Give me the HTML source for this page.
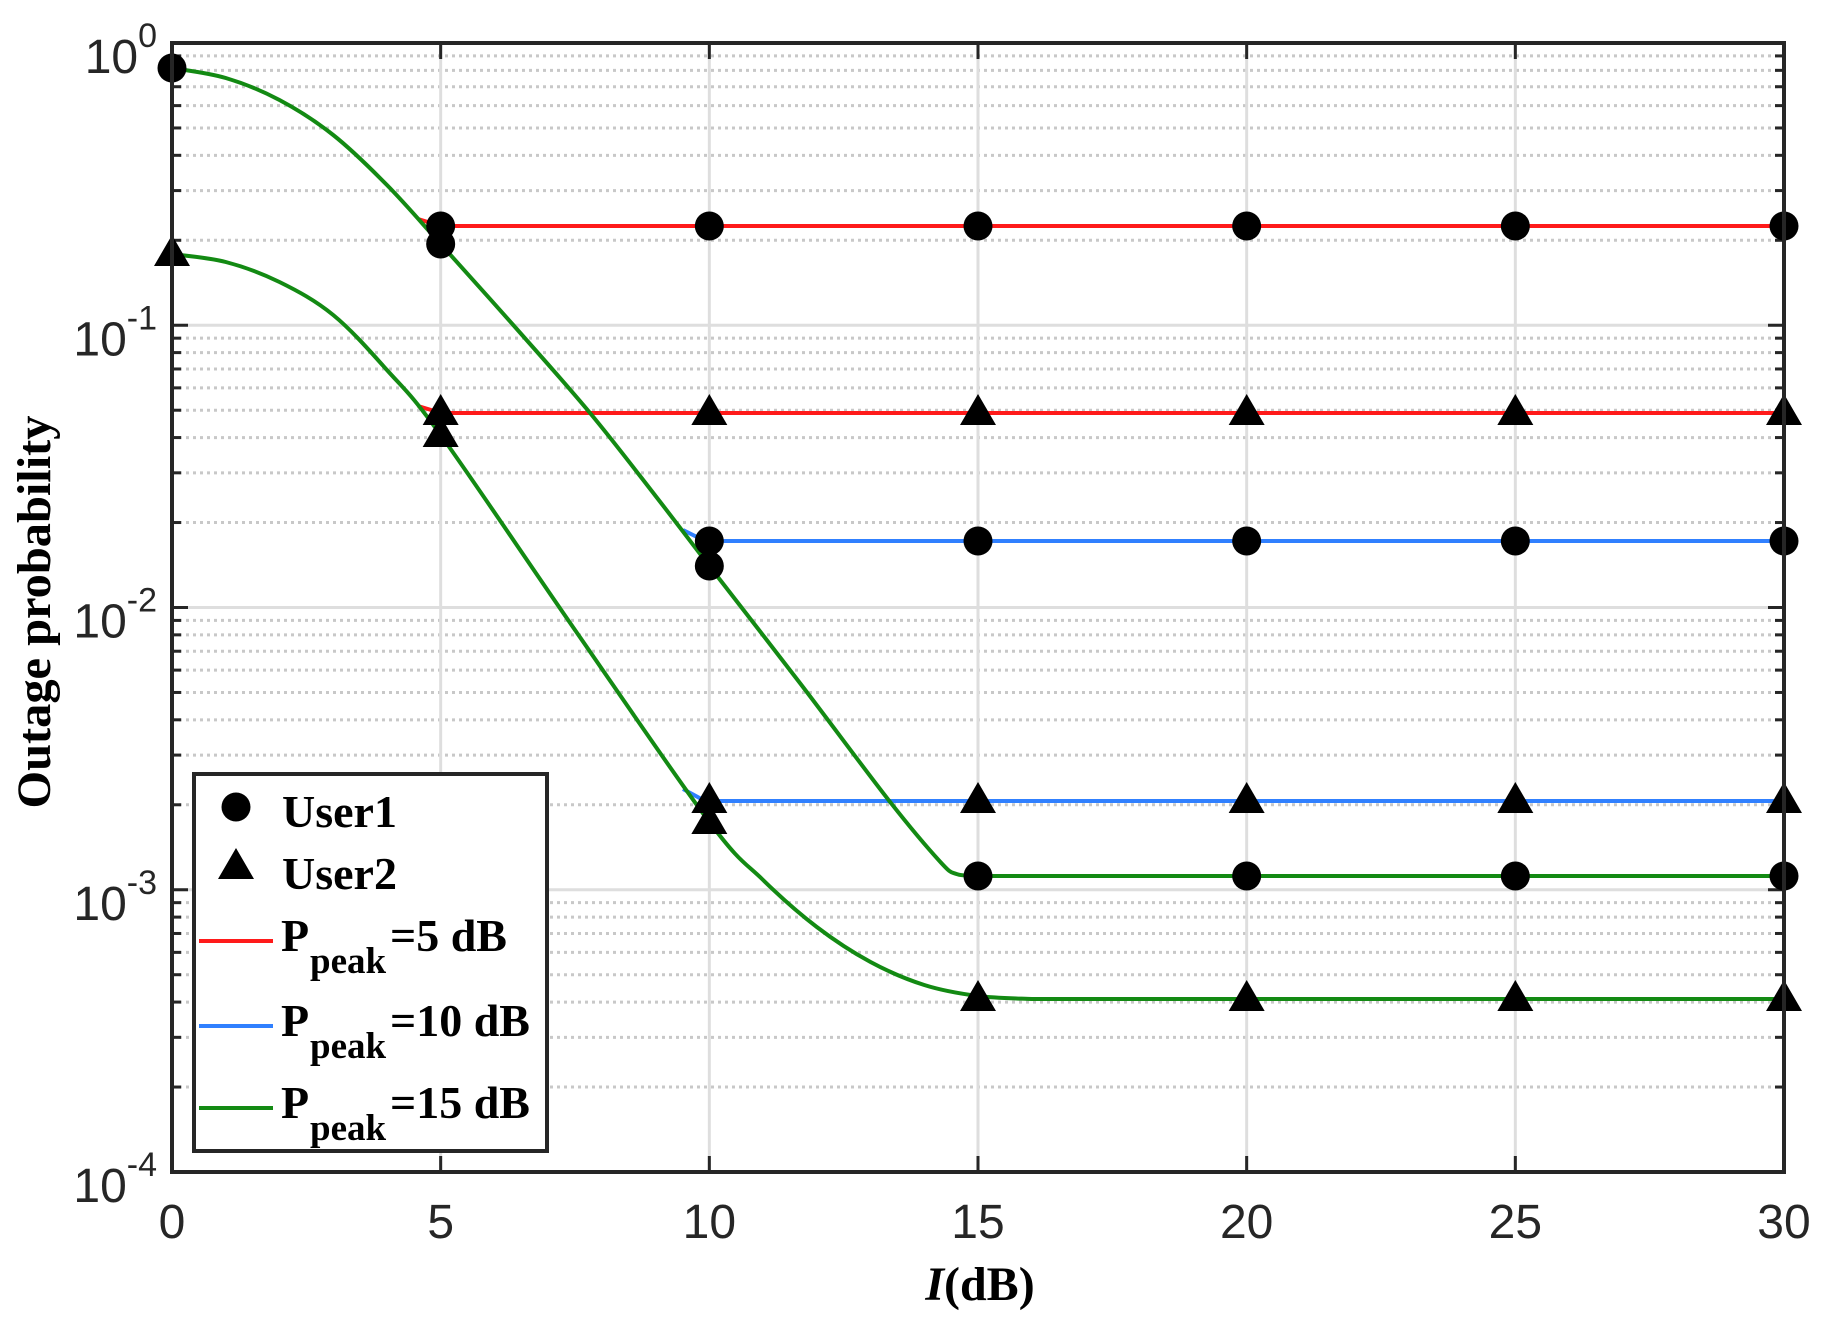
<!DOCTYPE html>
<html><head><meta charset="utf-8"><style>
html,body{margin:0;padding:0;background:#fff;}
svg{display:block;}
</style></head><body>
<svg id="s" width="1829" height="1336" xmlns="http://www.w3.org/2000/svg"></svg>
<script>
var s=document.getElementById('s');
var L=172,R=1784,T=43,B=1172,D=(B-T)/4;
function X(i){return L+i*(R-L)/30;}
var h='';
for(var d=0;d<4;d++){for(var k=2;k<=9;k++){var y=T+d*D+D*(1-Math.log10(k));
h+='<line x1="'+L+'" x2="'+R+'" y1="'+y+'" y2="'+y+'" stroke="#c8c8c8" stroke-width="3" stroke-dasharray="3,4"/>';
h+='<line x1="'+L+'" x2="'+(L+9)+'" y1="'+y+'" y2="'+y+'" stroke="#262626" stroke-width="3"/>';
h+='<line x1="'+(R-9)+'" x2="'+R+'" y1="'+y+'" y2="'+y+'" stroke="#262626" stroke-width="3"/>';}}
for(var d=1;d<4;d++){var y=T+d*D;h+='<line x1="'+L+'" x2="'+R+'" y1="'+y+'" y2="'+y+'" stroke="#dedede" stroke-width="3"/>';}
for(var i=5;i<30;i+=5){var x=X(i);h+='<line x1="'+x+'" x2="'+x+'" y1="'+T+'" y2="'+B+'" stroke="#dedede" stroke-width="3"/>';}
for(var d=0;d<=4;d++){var y=T+d*D;h+='<line x1="'+L+'" x2="'+(L+16)+'" y1="'+y+'" y2="'+y+'" stroke="#262626" stroke-width="3"/><line x1="'+(R-16)+'" x2="'+R+'" y1="'+y+'" y2="'+y+'" stroke="#262626" stroke-width="3"/>';}
for(var i=0;i<=30;i+=5){var x=X(i);h+='<line x1="'+x+'" x2="'+x+'" y1="'+B+'" y2="'+(B-16)+'" stroke="#262626" stroke-width="3"/><line x1="'+x+'" x2="'+x+'" y1="'+T+'" y2="'+(T+16)+'" stroke="#262626" stroke-width="3"/>';
h+='<text x="'+x+'" y="1238" font-family="Liberation Sans, sans-serif" font-size="48" fill="#262626" text-anchor="middle">'+i+'</text>';}
var ex=['0','-1','-2','-3','-4'];
for(var d=0;d<=4;d++){var y=T+d*D;h+='<text x="157" y="'+(y+30)+'" font-family="Liberation Sans, sans-serif" font-size="48" fill="#262626" text-anchor="end">10<tspan font-size="34" dy="-26">'+ex[d]+'</tspan></text>';}
function cr(p){var o='M'+p[0][0]+','+p[0][1];for(var i=0;i<p.length-1;i++){var p0=p[i>0?i-1:0],p1=p[i],p2=p[i+1],p3=p[i+2<p.length?i+2:i+1];
o+=' C'+(p1[0]+(p2[0]-p0[0])/6)+','+(p1[1]+(p2[1]-p0[1])/6)+' '+(p2[0]-(p3[0]-p1[0])/6)+','+(p2[1]-(p3[1]-p1[1])/6)+' '+p2[0]+','+p2[1];}return o;}
function P(a){return a.map(function(q){return [X(q[0]),q[1]];});}
var g1=P([[0,68],[1,78],[2,100],[3,135],[4,185],[5,244],[6.4,328],[7.78,413],[9,496],[10,566],[11.7,684],[13.35,801],[14.3,862],[14.6,874],[15,876]]);
var g2=P([[0,254],[1,262],[2,282],[3,315],[4,370],[5,435],[7.5,630],[10,822],[11,880],[12,927],[13,962],[14,985],[15,996],[16,999]]);
function line(d,c){h+='<path d="'+d+'" fill="none" stroke="'+c+'" stroke-width="4"/>';}
line('M418,219 L441,226 L'+R+',226','#ff1a1a');
line('M418,406 L441,413 L'+R+',413','#ff1a1a');
line('M683,530 L705,541 L'+R+',541','#3080ff');
line('M683,789 L705,801 L'+R+',801','#3080ff');
line(cr(g1)+' L'+R+',876','#138a13');
line(cr(g2)+' L'+R+',999','#138a13');
function C(x,y){h+='<circle cx="'+x+'" cy="'+y+'" r="14.5" fill="#000"/>';}
function Tr(x,y){h+='<polygon points="'+(x-18)+','+(y+12)+' '+(x+18)+','+(y+12)+' '+x+','+(y-19)+'" fill="#000"/>';}
C(X(0),68);Tr(X(0),254);
C(X(5),244);Tr(X(5),435);C(X(10),566);Tr(X(10),822);
for(var i=5;i<=30;i+=5){C(X(i),226);Tr(X(i),413);}
for(var i=10;i<=30;i+=5){C(X(i),541);Tr(X(i),801);}
for(var i=15;i<=30;i+=5){C(X(i),876);Tr(X(i),999);}
h+='<rect x="'+L+'" y="'+T+'" width="'+(R-L)+'" height="'+(B-T)+'" fill="none" stroke="#262626" stroke-width="4"/>';
h+='<rect x="194" y="774" width="353" height="377" fill="#fff" stroke="#262626" stroke-width="4"/>';
h+='<circle cx="236" cy="807" r="14.5" fill="#000"/>';
h+='<polygon points="218,879 254,879 236,848" fill="#000"/>';
var tf='font-family="Liberation Serif, serif" font-weight="bold" fill="#000"';
h+='<text x="282" y="827" '+tf+' font-size="46">User1</text>';
h+='<text x="282" y="889" '+tf+' font-size="46">User2</text>';
var rows=[[941,'#ff1a1a','5'],[1026,'#3080ff','10'],[1108,'#138a13','15']];
rows.forEach(function(r){h+='<line x1="199" x2="273" y1="'+r[0]+'" y2="'+r[0]+'" stroke="'+r[1]+'" stroke-width="4"/>';
h+='<text x="281" y="'+(r[0]+10)+'" '+tf+' font-size="46">P</text>';
h+='<text x="310" y="'+(r[0]+32)+'" '+tf+' font-size="37">peak</text>';
h+='<text x="390" y="'+(r[0]+10)+'" '+tf+' font-size="46">='+r[2]+' dB</text>';});
h+='<text x="980" y="1300" '+tf+' font-size="48" text-anchor="middle" fill="#262626"><tspan font-style="italic">I</tspan>(dB)</text>';
h+='<text transform="translate(50,612) rotate(-90)" '+tf+' font-size="48" text-anchor="middle" textLength="393" lengthAdjust="spacingAndGlyphs">Outage probability</text>';
s.innerHTML=h;
</script>
</body></html>
